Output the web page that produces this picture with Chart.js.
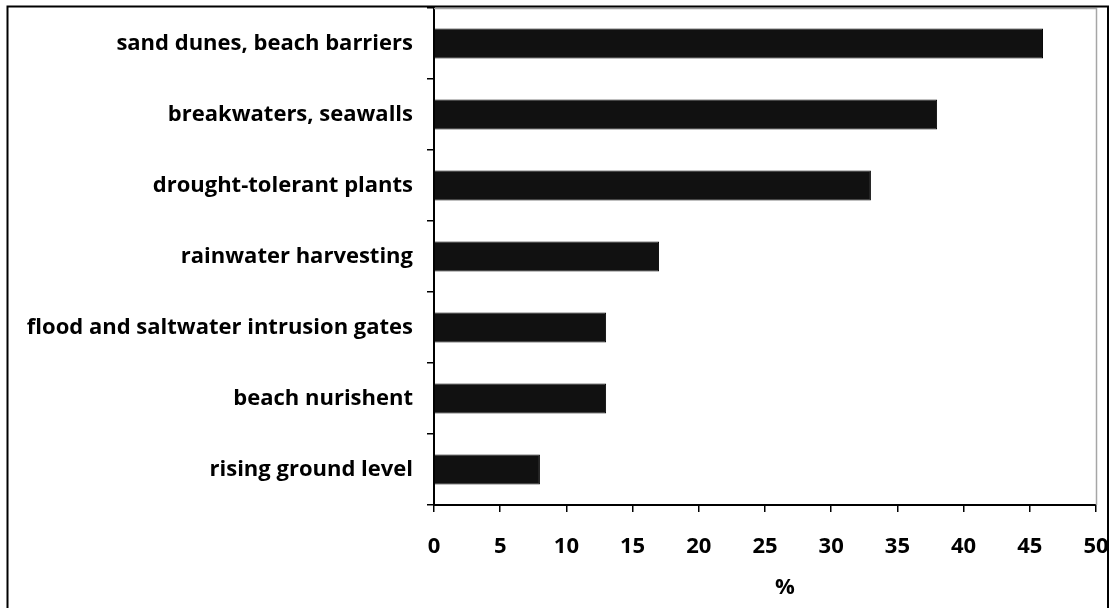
<!DOCTYPE html>
<html>
<head>
<meta charset="utf-8">
<script src="https://cdn.jsdelivr.net/npm/chart.js@4"></script>
<style>
html,body{margin:0;padding:0;background:#fff;}
#c{display:block;}
</style>
</head>
<body>
<canvas id="c" width="1110" height="608"></canvas>
<script>
const categories = [
  "sand dunes, beach barriers",
  "breakwaters, seawalls",
  "drought-tolerant plants",
  "rainwater harvesting",
  "flood and saltwater intrusion gates",
  "beach nurishent",
  "rising ground level"
];
const values = [46, 38, 33, 17, 13, 13, 8];
const xMin = 0, xMax = 50, xStep = 5;
const xTitle = "%";

const FONT = "'Open Sans', Lato, sans-serif";

const framePlugin = {
  id: 'frame',
  beforeDatasetsDraw(chart) {
    const {ctx, chartArea: a} = chart;
    ctx.save();
    ctx.strokeStyle = '#a6a6a6';
    ctx.lineWidth = 1.5;
    ctx.beginPath();
    ctx.moveTo(a.left, a.top + 0.5);
    ctx.lineTo(a.right + 0.5, a.top + 0.5);
    ctx.lineTo(a.right + 0.5, a.bottom);
    ctx.stroke();
    ctx.restore();
  },
  afterDraw(chart) {
    const ctx = chart.ctx;
    const a = chart.chartArea;
    ctx.save();
    ctx.strokeStyle = '#000';
    ctx.lineWidth = 2;
    ctx.beginPath();
    ctx.moveTo(7.5, 620);
    ctx.lineTo(7.5, 6.5);
    ctx.lineTo(1108, 6.5);
    ctx.lineTo(1108, 620);
    ctx.stroke();
    // axis title
    ctx.fillStyle = '#000';
    ctx.font = "bold 22px " + FONT;
    ctx.textAlign = 'center';
    ctx.textBaseline = 'middle';
    ctx.fillText(xTitle, (a.left + a.right) / 2 + 20, 588);
    ctx.restore();
  }
};

new Chart(document.getElementById('c'), {
  type: 'bar',
  data: {
    labels: categories,
    datasets: [{
      data: values,
      backgroundColor: '#111111',
      borderColor: '#000000',
      borderWidth: 1,
      categoryPercentage: 0.42,
      barPercentage: 1.0
    }]
  },
  options: {
    indexAxis: 'y',
    responsive: false,
    devicePixelRatio: 1,
    animation: false,
    layout: { padding: { left: 0, top: 8, right: 14, bottom: 0 } },
    plugins: { legend: { display: false }, tooltip: { enabled: false } },
    scales: {
      y: {
        afterFit(s) { s.width = 434; s.paddingTop = 0; s.paddingBottom = 0; },
        grid: { display: true, drawOnChartArea: false, drawTicks: true, tickLength: 7, color: '#000', lineWidth: 1.5, offset: true },
        border: { display: true, color: '#000', width: 2 },
        ticks: { color: '#000', padding: 14, font: { family: FONT, size: 22, weight: 'bold' } }
      },
      x: {
        min: xMin, max: xMax,
        afterFit(s) { s.height = 103; s.paddingLeft = 0; s.paddingRight = 0; },
        afterBuildTicks(s) {
          const t = [];
          for (let v = xMin; v <= xMax; v += xStep) t.push({value: v});
          s.ticks = t;
        },
        grid: { display: true, drawOnChartArea: false, drawTicks: true, tickLength: 7, color: '#000', lineWidth: 1.5 },
        border: { display: true, color: '#000', width: 2 },
        ticks: { color: '#000', padding: 22, maxRotation: 0, autoSkip: false, font: { family: FONT, size: 22, weight: 'bold' } },
        title: { display: false }
      }
    }
  },
  plugins: [framePlugin]
});
</script>
</body>
</html>
